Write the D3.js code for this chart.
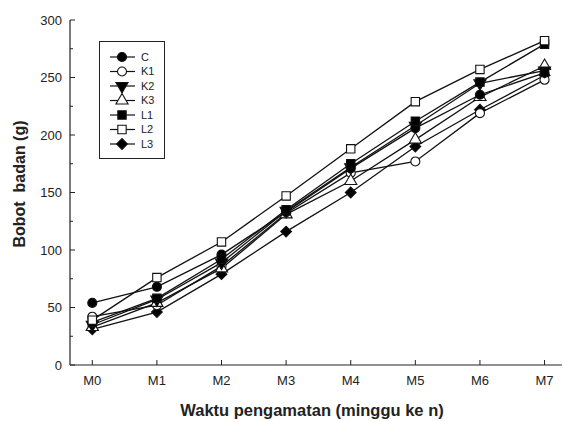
<!DOCTYPE html>
<html><head><meta charset="utf-8">
<script src="https://cdn.jsdelivr.net/npm/d3@7"></script>
<style>body{margin:0;background:#fff}svg{display:block}</style>
</head><body>
<script>
const categories = ["M0","M1","M2","M3","M4","M5","M6","M7"];
const seriesNames = ["C","K1","K2","K3","L1","L2","L3"];
const C  = [54, 68, 96, 133, 171, 206, 235, 254];
const K1 = [42, 52, 86, 132, 167, 177, 219, 248];
const K2 = [35, 57, 89, 134, 172, 208, 245, 256];
const K3 = [33, 54, 84, 131, 160, 196, 233, 260];
const L1 = [37, 58, 92, 135, 175, 212, 246, 279];
const L2 = [39, 76, 107, 147, 188, 229, 257, 282];
const L3 = [31, 46, 79, 116, 150, 190, 222, 252];
const yTicks = [0, 50, 100, 150, 200, 250, 300];
const yMinor = [25, 75, 125, 175, 225, 275];

const seriesData = {C, K1, K2, K3, L1, L2, L3};
const symbols = {
  C:  {type: d3.symbolCircle, fill: "#000", size: 64},
  K1: {type: d3.symbolCircle, fill: "#fff", size: 64},
  K2: {type: d3.symbolTriangle, fill: "#000", size: 64, rot: 180},
  K3: {type: d3.symbolTriangle, fill: "#fff", size: 64},
  L1: {type: d3.symbolSquare, fill: "#000", size: 70},
  L2: {type: d3.symbolSquare, fill: "#fff", size: 70},
  L3: {type: d3.symbolSquare, fill: "#000", size: 58, rot: 45}
};

const W = 563, H = 421;
const svg = d3.select("body").append("svg").attr("width", W).attr("height", H)
  .style("font-family", "Arial, 'Liberation Sans', sans-serif");

const x = d3.scaleLinear().domain([-0.345, 7.27]).range([70, 562]);
const y = d3.scaleLinear().domain([0, 300]).range([365, 20]);

// axes
const ax = svg.append("g").attr("color", "#222");
ax.append("line").attr("x1", 70).attr("x2", 70).attr("y1", y(300)).attr("y2", y(0)).attr("stroke", "#222").attr("stroke-width", 1.2);
ax.append("line").attr("x1", 70).attr("x2", 562).attr("y1", y(0)).attr("y2", y(0)).attr("stroke", "#222").attr("stroke-width", 1.2);

yTicks.forEach(t => {
  ax.append("line").attr("x1", 70).attr("x2", 75).attr("y1", y(t)).attr("y2", y(t)).attr("stroke", "#222");
  ax.append("text").attr("x", 62).attr("y", y(t)).attr("dy", "0.35em").attr("text-anchor", "end")
    .attr("font-size", 13).attr("fill", "#222").text(t);
});
yMinor.forEach(t => {
  ax.append("line").attr("x1", 70).attr("x2", 73).attr("y1", y(t)).attr("y2", y(t)).attr("stroke", "#222");
});
categories.forEach((c, i) => {
  ax.append("line").attr("x1", x(i)).attr("x2", x(i)).attr("y1", y(0)).attr("y2", y(0) - 5).attr("stroke", "#222");
  ax.append("text").attr("x", x(i)).attr("y", 385).attr("text-anchor", "middle")
    .attr("font-size", 13).attr("fill", "#222").text(c);
});

svg.append("text").attr("x", 312).attr("y", 416).attr("text-anchor", "middle")
  .attr("font-size", 16.5).attr("font-weight", "bold").attr("fill", "#222")
  .text("Waktu pengamatan (minggu ke n)");
svg.append("text").attr("transform", "translate(25,184) rotate(-90)").attr("text-anchor", "middle")
  .attr("font-size", 16).attr("font-weight", "bold").attr("fill", "#222")
  .style("white-space", "pre")
  .text("Bobot  badan (g)");

// lines
const line = d3.line().x((d, i) => x(i)).y(d => y(d));
const order = ["L3","K1","K3","K2","C","L1","L2"];
order.forEach(name => {
  svg.append("path").datum(seriesData[name]).attr("d", line)
    .attr("fill", "none").attr("stroke", "#111").attr("stroke-width", 1.3);
});
order.forEach(name => {
  const s = symbols[name];
  svg.append("g").selectAll("path").data(seriesData[name]).join("path")
    .attr("d", d3.symbol().type(s.type).size(s.size))
    .attr("transform", (d, i) => `translate(${x(i)},${y(d)})` + (s.rot ? ` rotate(${s.rot})` : ""))
    .attr("fill", s.fill).attr("stroke", "#111").attr("stroke-width", 1.1);
});

// legend
const lg = svg.append("g");
lg.append("rect").attr("x", 99.5).attr("y", 41.5).attr("width", 65).attr("height", 117)
  .attr("fill", "#fff").attr("stroke", "#222").attr("stroke-width", 1);
seriesNames.forEach((name, i) => {
  const ly = 57 + i * 14.5;
  const s = symbols[name];
  lg.append("line").attr("x1", 110).attr("x2", 135).attr("y1", ly).attr("y2", ly).attr("stroke", "#111").attr("stroke-width", 1.2);
  lg.append("path").attr("d", d3.symbol().type(s.type).size(s.size))
    .attr("transform", `translate(122,${ly})` + (s.rot ? ` rotate(${s.rot})` : ""))
    .attr("fill", s.fill).attr("stroke", "#111").attr("stroke-width", 1.1);
  lg.append("text").attr("x", 141).attr("y", ly).attr("dy", "0.35em").attr("font-size", 11)
    .attr("fill", "#222").text(name);
});
</script>
</body></html>
